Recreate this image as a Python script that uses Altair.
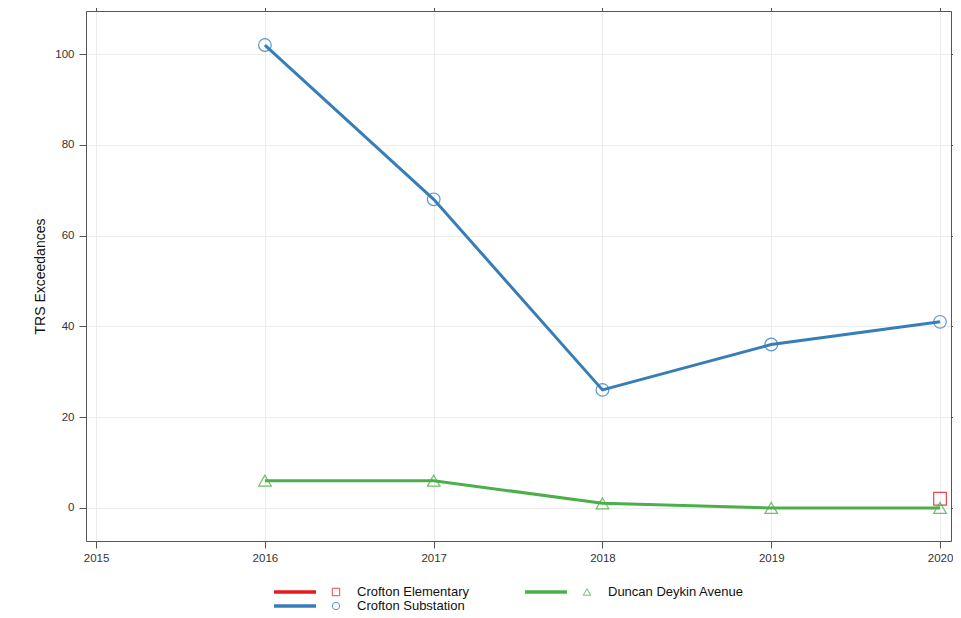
import altair as alt
import pandas as pd

years = [2016, 2017, 2018, 2019, 2020]
substation = [102, 68, 26, 36, 41]
duncan = [6, 6, 1, 0, 0]
elementary_years = [2020]
elementary = [2]

series = ["Crofton Elementary", "Crofton Substation", "Duncan Deykin Avenue"]
colors = ["#E41A1C", "#377EB8", "#4DAF4A"]
shapes = ["square", "circle", "triangle-up"]

rows = []
for y, v in zip(elementary_years, elementary):
    rows.append({"year": y, "value": v, "site": series[0]})
for y, v in zip(years, substation):
    rows.append({"year": y, "value": v, "site": series[1]})
for y, v in zip(years, duncan):
    rows.append({"year": y, "value": v, "site": series[2]})
df = pd.DataFrame(rows)

W, H = 865, 530
FONT = "Liberation Sans"
xticks = [2015, 2016, 2017, 2018, 2019, 2020]
yticks = [0, 20, 40, 60, 80, 100]

xscale = alt.Scale(domain=[2014.94, 2020.065], nice=False, zero=False)
yscale = alt.Scale(domain=[-7.3, 109.5], nice=False, zero=False)
cscale = alt.Scale(domain=series, range=colors)
sscale = alt.Scale(domain=series, range=shapes)

axis_common = dict(
    domain=True, domainColor="#555", domainWidth=1,
    tickColor="#555", tickSize=7, tickWidth=1,
    labelColor="#333", labelFont=FONT, labelFontSize=11.5,
    gridColor="#ececec", gridWidth=1,
)

x_enc = alt.X("year:Q", scale=xscale,
              axis=alt.Axis(values=xticks, format="d",
                            title=None, labelPadding=4, **axis_common))
y_enc = alt.Y("value:Q", scale=yscale,
              axis=alt.Axis(values=yticks, title="TRS Exceedances",
                            titleFont=FONT, titleFontSize=14, titleFontWeight="normal",
                            titleColor="#111", titlePadding=7, labelPadding=5, **axis_common))

lines = alt.Chart(df).mark_line(strokeWidth=3).encode(
    x=x_enc, y=y_enc,
    color=alt.Color("site:N", scale=cscale, legend=None),
    detail="site:N",
)
points = alt.Chart(df).mark_point(filled=False, size=160, strokeWidth=1.2, opacity=0.8).encode(
    x=alt.X("year:Q", scale=xscale, axis=None),
    y=alt.Y("value:Q", scale=yscale, axis=None),
    color=alt.Color("site:N", scale=cscale, legend=None),
    shape=alt.Shape("site:N", scale=sscale, legend=None),
)

# top / right tick-only axes
ax_common2 = dict(domain=True, domainColor="#555", tickColor="#555", tickSize=7,
                  labels=False, grid=False, title=None)
frame = alt.Chart(df).mark_point(opacity=0).encode(
    x=alt.X("year:Q", scale=xscale, axis=alt.Axis(orient="top", values=xticks, **ax_common2)),
    y=alt.Y("value:Q", scale=yscale, axis=alt.Axis(orient="right", values=yticks, **ax_common2)),
)

# legend (manual, below the plot)
leg_col_x = [188, 188, 439]
leg_row_y = [H + 51, H + 65, H + 51]
leg = pd.DataFrame({
    "site": series,
    "lx1": leg_col_x,
    "lx2": [v + 42 for v in leg_col_x],
    "mx": [v + 62 for v in leg_col_x],
    "tx": [v + 83 for v in leg_col_x],
    "ly": leg_row_y,
})
leg_lines = alt.Chart(leg).mark_rule(strokeWidth=3.5).encode(
    x=alt.X("lx1:Q", scale=None), x2="lx2:Q", y=alt.Y("ly:Q", scale=None),
    color=alt.Color("site:N", scale=cscale, legend=None),
)
leg_pts = alt.Chart(leg).mark_point(filled=False, size=55, strokeWidth=1, opacity=0.8).encode(
    x=alt.X("mx:Q", scale=None), y=alt.Y("ly:Q", scale=None),
    color=alt.Color("site:N", scale=cscale, legend=None),
    shape=alt.Shape("site:N", scale=sscale, legend=None),
)
leg_txt = alt.Chart(leg).mark_text(align="left", baseline="middle", font=FONT, fontSize=13, color="#111").encode(
    x=alt.X("tx:Q", scale=None), y=alt.Y("ly:Q", scale=None), text="site:N",
)

chart = alt.layer(lines, points, frame, leg_lines, leg_pts, leg_txt).resolve_axis(
    x="independent", y="independent"
).properties(
    width=W, height=H,
    autosize=alt.AutoSizeParams(type="none"),
    padding={"left": 78, "top": 3, "right": 2, "bottom": 71},
).configure_view(stroke=None).configure(background="white")

chart.save("out.html", embed_options={"renderer": "svg", "actions": False})
